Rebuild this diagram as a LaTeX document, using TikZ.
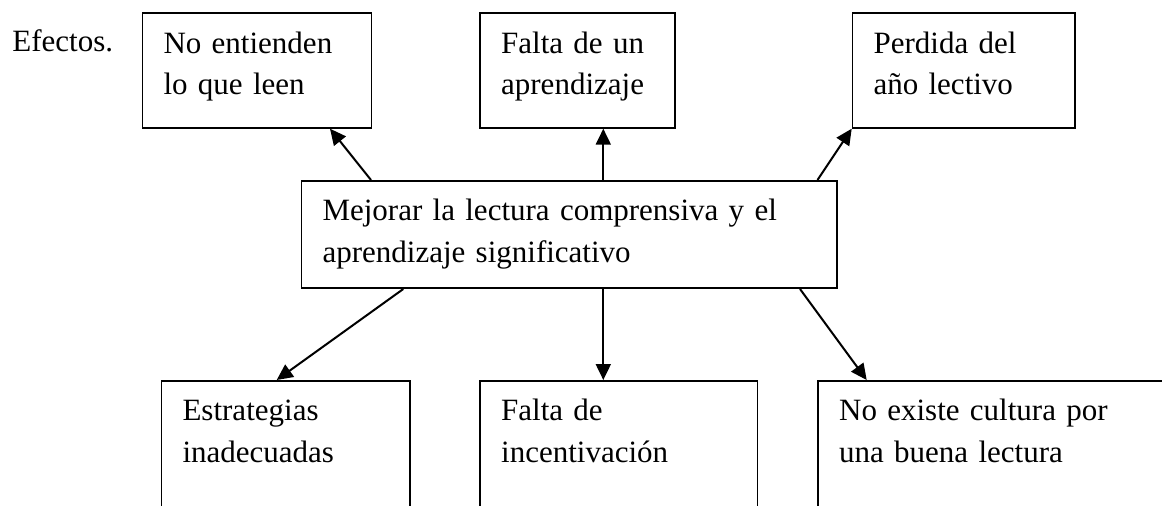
\documentclass[tikz,border=0pt]{standalone}
\usepackage{fontspec}
\setmainfont{Liberation Serif}
\usetikzlibrary{arrows.meta}
\newcommand\boxcontent[3]{\parbox[c][#2][t]{#1}{\leftskip=21pt\fontsize{31pt}{41.5pt}\selectfont\spaceskip=10.3pt\relax\rule{0pt}{40pt}#3}}
\tikzset{
  effbox/.style={draw, line width=1.7pt, inner sep=0pt, anchor=north west},
  arr/.style={line width=2pt, -{Triangle[length=16pt,width=15pt]}},
  lbl/.style={inner sep=0pt, anchor=base west, font=\fontsize{31pt}{36pt}\selectfont}
}
\begin{document}
\begin{tikzpicture}[x=1pt,y=-1pt]
\useasboundingbox (0,0) rectangle (1162,506);
\clip (0,0) rectangle (1162,506);
\fill[white] (0,0) rectangle (1162,506);
\node[lbl] (efectos) at (12.2,51) {Efectos.};
\node[effbox] (tl) at (141.7,12.3) {\boxcontent{229pt}{114.7pt}{No entienden\\lo que leen}};
\node[effbox] (tm) at (479.3,12.3) {\boxcontent{194.7pt}{114.7pt}{Falta de un\\aprendizaje}};
\node[effbox] (tr) at (851.7,12.3) {\boxcontent{222.3pt}{114.7pt}{Perdida del\\año lectivo}};
\node[effbox] (main) at (300.7,180) {\boxcontent{535.3pt}{107.3pt}{Mejorar la lectura comprensiva y el\\aprendizaje significativo}};
\node[effbox] (bl) at (160.7,380) {\boxcontent{248.6pt}{200pt}{Estrategias\\inadecuadas}};
\node[effbox] (bm) at (479.3,380) {\boxcontent{277.4pt}{200pt}{Falta de\\incentivación}};
\node[effbox] (br) at (817.3,380) {\boxcontent{344.4pt}{200pt}{No existe cultura por\\una buena lectura}};
\draw[arr] ([xshift=70.3pt]main.north west) -- ([xshift=188.3pt]tl.south west);
\draw[arr] ([xshift=302.6pt]main.north west) -- ([xshift=124pt]tm.south west);
\draw[arr] ([xshift=516.8pt]main.north west) -- (tr.south west);
\draw[arr] ([xshift=102.6pt]main.south west) -- ([xshift=116pt]bl.north west);
\draw[arr] ([xshift=302.6pt]main.south west) -- ([xshift=124pt]bm.north west);
\draw[arr] ([xshift=499.3pt]main.south west) -- ([xshift=49.4pt]br.north west);
\end{tikzpicture}
\end{document}
